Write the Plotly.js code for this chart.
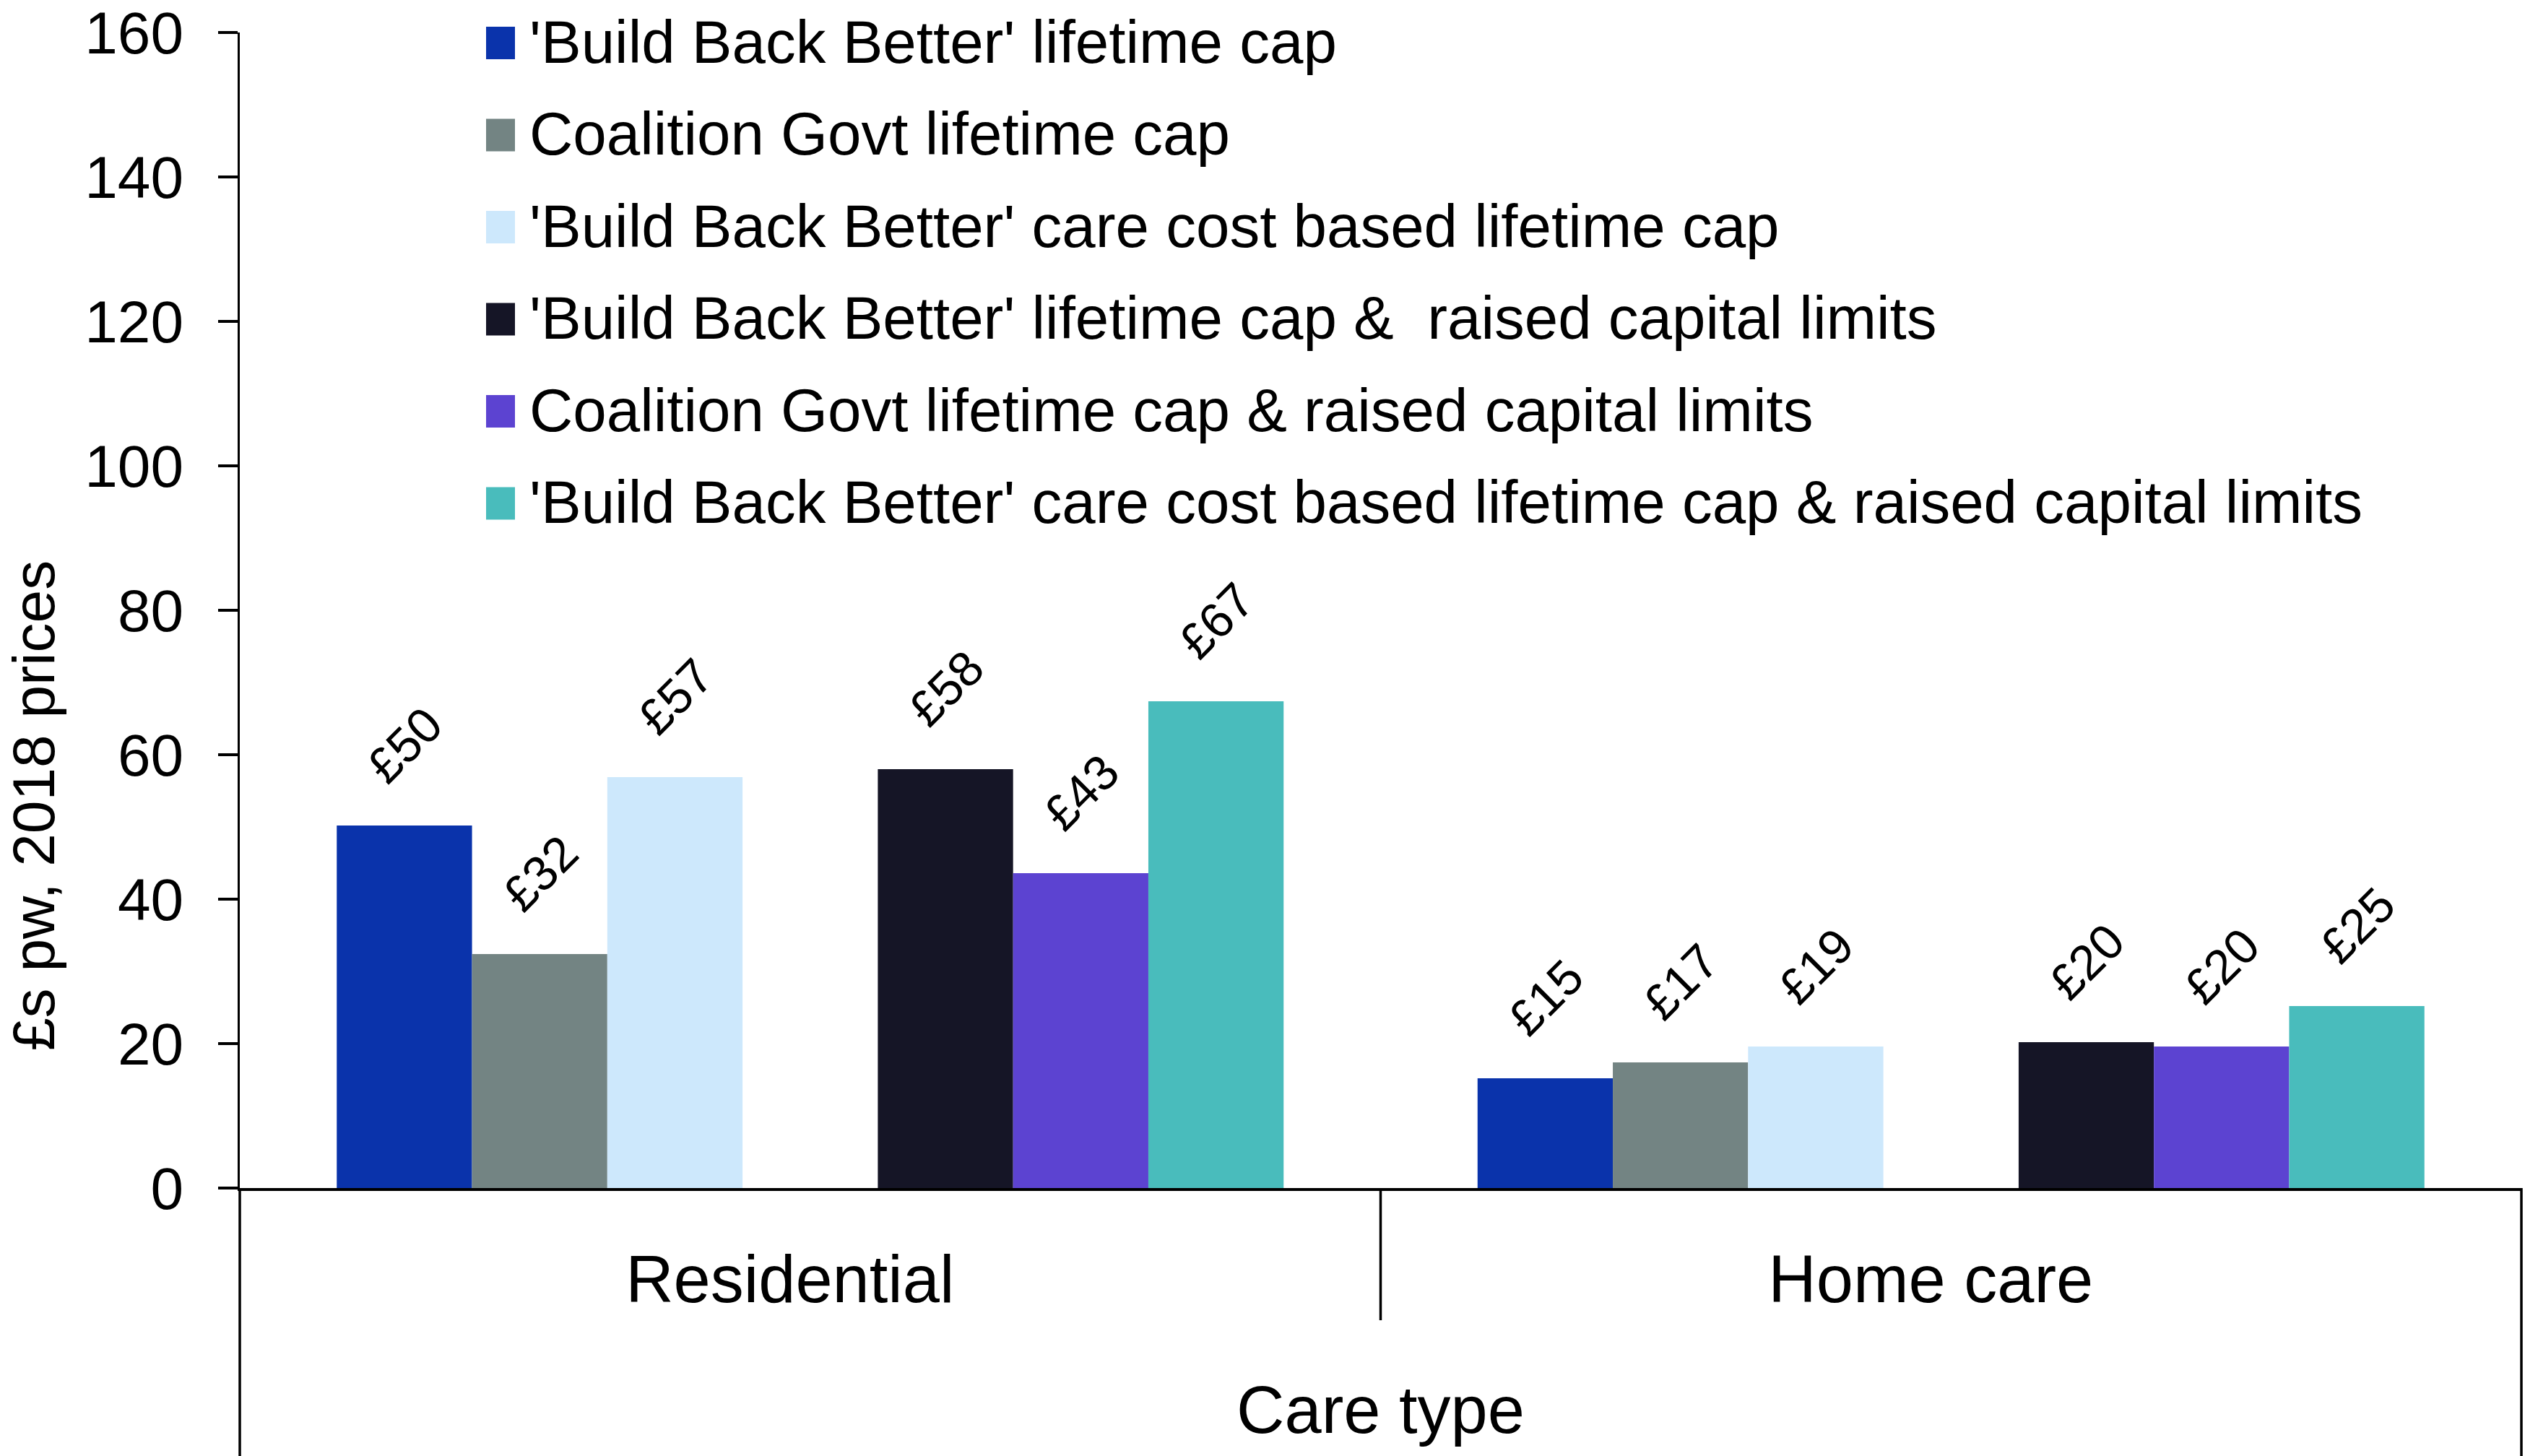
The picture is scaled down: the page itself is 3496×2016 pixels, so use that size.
<!DOCTYPE html>
<html><head><meta charset="utf-8">
<script src="https://cdn.plot.ly/plotly-3.0.1.min.js"></script>
<style>html,body{margin:0;padding:0;background:#fff}#chart{width:3496px;height:2016px}</style>
</head><body><div id="chart"></div>
<script>
// ---- data ----
const categories = ['Residential', 'Home care'];
const seriesNames = [
  "'Build Back Better' lifetime cap",
  "Coalition Govt lifetime cap",
  "'Build Back Better' care cost based lifetime cap",
  "'Build Back Better' lifetime cap &  raised capital limits",
  "Coalition Govt lifetime cap & raised capital limits",
  "'Build Back Better' care cost based lifetime cap & raised capital limits"
];
const bbbCap               = [50.2, 15.2];
const coalitionCap         = [32.4, 17.4];
const bbbCareCostCap       = [56.9, 19.6];
const bbbCapRaised         = [58.0, 20.2];
const coalitionCapRaised   = [43.6, 19.6];
const bbbCareCostCapRaised = [67.4, 25.2];
const bbbCapLabels               = ['£50', '£15'];
const coalitionCapLabels         = ['£32', '£17'];
const bbbCareCostCapLabels       = ['£57', '£19'];
const bbbCapRaisedLabels         = ['£58', '£20'];
const coalitionCapRaisedLabels   = ['£43', '£20'];
const bbbCareCostCapRaisedLabels = ['£67', '£25'];
const yTickValues = [0, 20, 40, 60, 80, 100, 120, 140, 160];
const yAxisTitle = '£s pw, 2018 prices';
const xAxisTitle = 'Care type';

// ---- styling ----
const colors = ['#0A33AB', '#738483', '#CDE8FC', '#151526', '#5C43D1', '#49BCBC'];
const FONT = 'Liberation Sans, Arial, Helvetica, sans-serif';
const seriesValues = [bbbCap, coalitionCap, bbbCareCostCap, bbbCapRaised, coalitionCapRaised, bbbCareCostCapRaised];
const seriesLabels = [bbbCapLabels, coalitionCapLabels, bbbCareCostCapLabels, bbbCapRaisedLabels, coalitionCapRaisedLabels, bbbCareCostCapRaisedLabels];

const W = 3496, H = 2016;
const M = {l: 332, r: 5, t: 45, b: 371};
const PW = W - M.l - M.r, PH = H - M.t - M.b;
const px2x = p => (p - M.l) / PW;
const px2y = p => (H - M.b - p) / PH;

const gap = 0.17;
const slot = (1 - gap) / 7;   // three bars, one empty slot, three bars

const traces = [];
const annotations = [];
seriesValues.forEach((vals, k) => {
  const s = k < 3 ? k : k + 1;
  const off = -(1 - gap) / 2 + s * slot;
  traces.push({
    type: 'bar', name: seriesNames[k], x: categories, y: vals,
    offset: off, width: slot,
    marker: {color: colors[k], line: {width: 0}},
    showlegend: false, hoverinfo: 'x+y+name'
  });
  vals.forEach((v, i) => {
    annotations.push({
      xref: 'x', yref: 'y', x: i + off + slot / 2, y: v,
      text: seriesLabels[k][i], showarrow: false, textangle: -45,
      xanchor: 'center', yanchor: 'middle', yshift: 112,
      font: {family: FONT, size: 68, color: '#000'}
    });
  });
});

// manual legend (large square swatches)
const shapes = [];
seriesNames.forEach((n, k) => {
  const cy = 59.5 + 127.5 * k;
  shapes.push({type: 'rect', xref: 'paper', yref: 'paper',
    x0: px2x(673), x1: px2x(713), y0: px2y(cy + 22.5), y1: px2y(cy - 22.5),
    line: {width: 0}, fillcolor: colors[k]});
  annotations.push({xref: 'paper', yref: 'paper', x: px2x(731), y: px2y(cy - 2),
    xanchor: 'left', yanchor: 'middle', text: n, showarrow: false,
    font: {family: FONT, size: 83.5, color: '#000'}});
});

// y title
annotations.push({xref: 'paper', yref: 'paper', x: px2x(46), y: px2y(1116),
  xanchor: 'center', yanchor: 'middle', textangle: -90, text: yAxisTitle,
  showarrow: false, font: {family: FONT, size: 82, color: '#000'}});

// category axis frame lines
const lineStyle = {color: '#000', width: 3.5};
shapes.push({type: 'line', xref: 'paper', yref: 'paper', x0: 0, x1: 0, y0: 0, y1: px2y(H + 5), line: lineStyle});
shapes.push({type: 'line', xref: 'paper', yref: 'paper', x0: 1, x1: 1, y0: 0, y1: px2y(H + 5), line: lineStyle});
shapes.push({type: 'line', xref: 'x', yref: 'paper', x0: 0.5, x1: 0.5, y0: 0, y1: px2y(1828), line: lineStyle});

const layout = {
  width: W, height: H, margin: M,
  paper_bgcolor: '#fff', plot_bgcolor: '#fff',
  font: {family: FONT, size: 82, color: '#000'},
  barmode: 'overlay',
  showlegend: false,
  xaxis: {
    type: 'category', range: [-0.5, 1.5], fixedrange: true,
    showline: true, linecolor: '#000', linewidth: 4,
    ticks: '', showgrid: false, zeroline: false,
    tickfont: {family: FONT, size: 92, color: '#000'},
    ticklabelstandoff: 44, ticklabelshift: -28,
    title: {text: xAxisTitle, font: {family: FONT, size: 92, color: '#000'}, standoff: 99},
    automargin: false
  },
  yaxis: {
    range: [0, 160.02], tickvals: yTickValues, ticktext: yTickValues.map(String),
    showline: true, linecolor: '#000', linewidth: 3.5,
    ticks: 'outside', ticklen: 27, tickwidth: 3.5, tickcolor: '#000',
    showgrid: false, zeroline: false,
    tickfont: {family: FONT, size: 82, color: '#000'},
    ticklabelstandoff: 31, ticklabeloverflow: 'allow',
    automargin: false
  },
  annotations: annotations,
  shapes: shapes
};

Plotly.newPlot('chart', traces, layout, {staticPlot: true, displayModeBar: false});
</script>
</body></html>
